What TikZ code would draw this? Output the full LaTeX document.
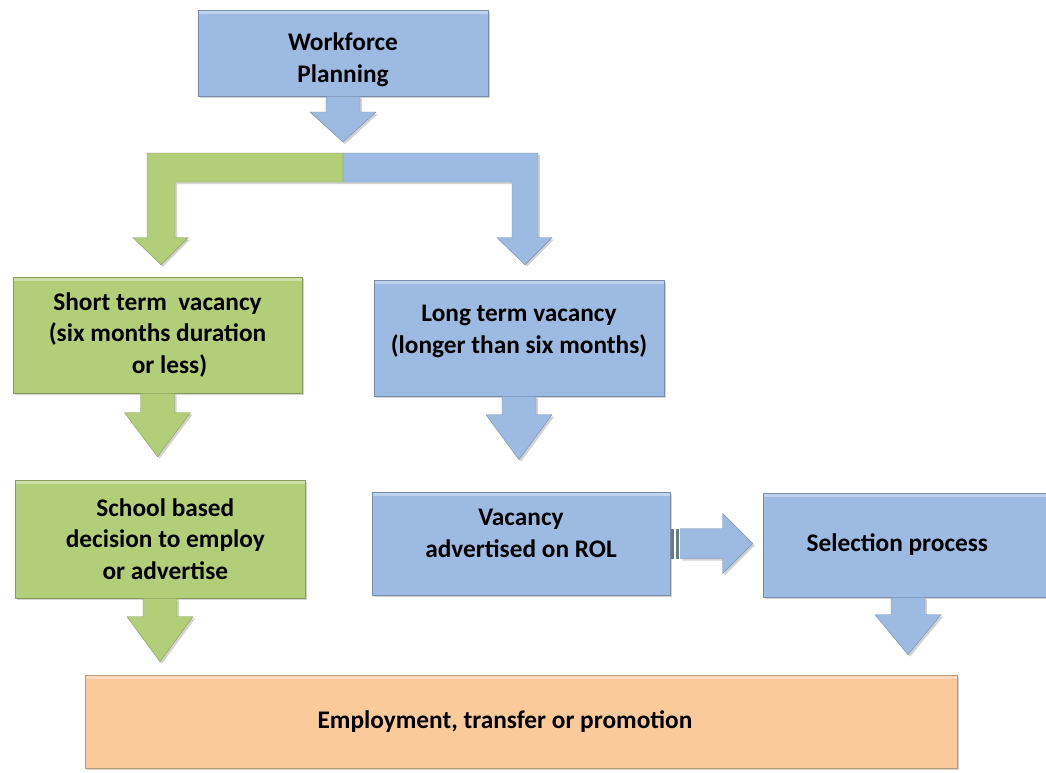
\documentclass[tikz,border=0pt]{standalone}
\usepackage{fontspec}
\setmainfont{Carlito}
\usetikzlibrary{calc,shadows}
\definecolor{boxblue}{RGB}{157,187,226}
\definecolor{boxgreen}{RGB}{179,206,120}
\definecolor{boxorange}{RGB}{251,202,154}
\newlength{\unitpx}\setlength{\unitpx}{0.75pt}
% down block arrow: style, from, to, gap above target, head length
\newcommand{\downblock}[5]{%
\path[#1] ($(#2)+(-17,0)$) -- ($(#2 |- #3)+(-17,-#4-#5)$) -- ($(#2 |- #3)+(-33,-#4-#5)$)
  -- ($(#2 |- #3)+(0,-#4)$) -- ($(#2 |- #3)+(33,-#4-#5)$) -- ($(#2 |- #3)+(17,-#4-#5)$)
  -- ($(#2)+(17,0)$) -- cycle;}

\begin{document}
\begin{tikzpicture}[x=\unitpx,y=-\unitpx,
  shade/.style={drop shadow={shadow xshift=1.5pt,shadow yshift=-1.5pt,opacity=.35}},
  box/.style={rectangle,shade,line width=.4pt,align=center,inner sep=0pt,
    font=\bfseries\fontsize{19}{23.5}\selectfont,
    path picture={\fill[white,opacity=.35] (path picture bounding box.north west)
      rectangle ([yshift=-3pt]path picture bounding box.north east);}},
  boxtext/.style={align=center,inner sep=0pt,font=\bfseries\fontsize{19}{23.5}\selectfont},
  bluebox/.style={box,fill=boxblue,draw=boxblue!75!black},
  greenbox/.style={box,fill=boxgreen,draw=boxgreen!75!black},
  orangebox/.style={box,fill=boxorange,draw=boxorange!75!black},
  bluearrow/.style={shade,fill=boxblue,draw=boxblue!75!black,line width=.3pt},
  greenarrow/.style={shade,fill=boxgreen,draw=boxgreen!75!black,line width=.3pt}]
\useasboundingbox (0,0) rectangle (1046,772);

% boxes
\node[bluebox,minimum width=290\unitpx,minimum height=86\unitpx,
  label={[boxtext,yshift=-5pt]center:Workforce\\Planning}] (wfp) at (343,53) {};
\node[greenbox,minimum width=289\unitpx,minimum height=116\unitpx] (short) at (157.5,335)
  {Short term \ vacancy\\(six months duration\\\hspace*{18pt}or less)};
\node[bluebox,minimum width=290\unitpx,minimum height=116\unitpx,
  label={[boxtext,yshift=5pt]center:Long term vacancy\\(longer than six months)}] (long) at (519,338) {};
\node[greenbox,minimum width=290\unitpx,minimum height=118\unitpx] (school) at (160,539)
  {\hspace*{8pt}School based\\\hspace*{8pt}decision to employ\\\hspace*{8pt}or advertise};
\node[bluebox,minimum width=298\unitpx,minimum height=103\unitpx,
  label={[boxtext,yshift=7.5pt]center:Vacancy\\advertised on ROL}] (rol) at (521,543.5) {};
\node[bluebox,minimum width=290\unitpx,minimum height=104\unitpx] (select) at (908,545)
  {Selection process\hspace*{16pt}};
\node[orangebox,minimum width=872\unitpx,minimum height=93\unitpx] (employ) at (521,721.5)
  {Employment, transfer or promotion\hspace*{24pt}};

% split arrow
\coordinate (split) at (343,153);
\coordinate (ltip) at ($(short.north)+(3.5,-12)$);
\coordinate (rtip) at ($(long.north)+(6,-15)$);
\path[greenarrow] (split) -- ($(split -| ltip)+(-14,0)$) -- ($(ltip)+(-14,-27)$) -- ($(ltip)+(-28,-27)$)
  -- (ltip) -- ($(ltip)+(27,-27)$) -- ($(ltip)+(14,-27)$) -- ($(split -| ltip)+(14,29)$)
  -- ($(split)+(0,29)$) -- cycle;
\path[bluearrow] (split) -- ($(split -| rtip)+(13,0)$) -- ($(rtip)+(13,-27)$) -- ($(rtip)+(27,-27)$)
  -- (rtip) -- ($(rtip)+(-28,-27)$) -- ($(rtip)+(-13,-27)$) -- ($(split -| rtip)+(-13,29)$)
  -- ($(split)+(0,29)$) -- cycle;

% down arrows
\downblock{bluearrow}{wfp.south}{split}{11}{30}
\downblock{greenarrow}{short.south}{school.north}{23}{44}
\downblock{bluearrow}{long.south}{rol.north}{32}{45}
\downblock{greenarrow}{school.south}{employ.north}{13}{45}
\downblock{bluearrow}{select.south}{employ.north}{20}{40}

% right arrow
\fill[boxblue!65!black] ($(rol.east)+(1,-15)$) rectangle ($(rol.east)+(4,15)$);
\fill[boxblue!65!black] ($(rol.east)+(6,-15)$) rectangle ($(rol.east)+(9,15)$);
\path[bluearrow] ($(rol.east)+(10,-15)$) -- ($(select.west |- rol.east)+(-40,-15)$)
  -- ($(select.west |- rol.east)+(-40,-30)$) -- ($(select.west |- rol.east)+(-10,0)$)
  -- ($(select.west |- rol.east)+(-40,30)$) -- ($(select.west |- rol.east)+(-40,15)$)
  -- ($(rol.east)+(10,15)$) -- cycle;
\end{tikzpicture}
\end{document}
